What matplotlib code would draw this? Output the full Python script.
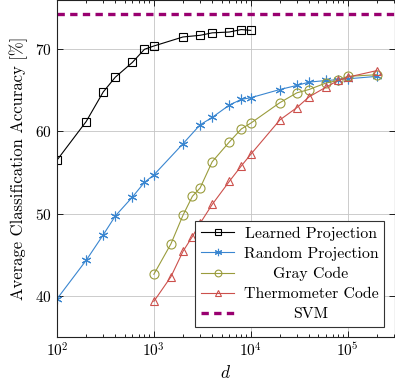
import numpy as np
import matplotlib
matplotlib.use('Agg')
from matplotlib import pyplot as plt

plt.rcParams['font.family'] = 'serif'
plt.rcParams['font.serif'] = ['cmr10']
plt.rcParams['mathtext.fontset'] = 'cm'
plt.rcParams['axes.formatter.use_mathtext'] = True
plt.rcParams['font.size'] = 11

# data
d_learned = [100, 200, 300, 400, 600, 800, 1000, 2000, 3000, 4000, 6000, 8000, 10000]
acc_learned = [56.5, 61.2, 64.8, 66.6, 68.4, 70.0, 70.4, 71.5, 71.7, 72.0, 72.1, 72.4, 72.3]

d_random = [100, 200, 300, 400, 600, 800, 1000, 2000, 3000, 4000, 6000, 8000, 10000,
            20000, 30000, 40000, 60000, 80000, 100000, 200000]
acc_random = [39.6, 44.3, 47.4, 49.7, 52.0, 53.8, 54.7, 58.5, 60.8, 61.7, 63.2, 63.9, 64.1,
              65.1, 65.6, 66.0, 66.2, 66.3, 66.4, 66.7]

d_codes = [1000, 1500, 2000, 2500, 3000, 4000, 6000, 8000, 10000,
           20000, 30000, 40000, 60000, 80000, 100000, 200000]
acc_gray = [42.6, 46.3, 49.8, 52.1, 53.1, 56.3, 58.7, 60.3, 61.0,
            63.5, 64.7, 65.1, 65.9, 66.2, 66.7, 66.9]
acc_thermo = [39.3, 42.3, 45.4, 47.2, 48.8, 51.1, 53.9, 55.8, 57.2,
              61.4, 62.9, 64.2, 65.4, 66.2, 66.6, 67.4]

svm_acc = 74.3

labels = ['Learned Projection', 'Random Projection', 'Gray Code', 'Thermometer Code', 'SVM']

fig = plt.figure(figsize=(3.95, 3.81), dpi=100)
ax = fig.add_axes([57 / 395, 1 - 336.7 / 381, 337.5 / 395, 336.7 / 381])

asterisk = (6, 2, 0)
ax.plot(d_learned, acc_learned, color='black', lw=0.8, marker='s', ms=6.3,
        mfc='none', mew=0.8, label=labels[0])
ax.plot(d_random, acc_random, color='#3a86d0', lw=0.8, marker=asterisk, ms=7,
        mew=0.8, label=labels[1])
ax.plot(d_codes, acc_gray, color='#9a9c3c', lw=0.8, marker='o', ms=6.5,
        mfc='none', mew=0.8, label=labels[2])
ax.plot(d_codes, acc_thermo, color='#cc504c', lw=0.8, marker='^', ms=6,
        mfc='none', mew=0.8, label=labels[3])
ax.axhline(svm_acc, color='#990070', lw=2.4, ls=(0, (2.2, 1.6)), label=labels[4])

ax.set_xscale('log')
ax.set_xlim(100, 3.05e5)
ax.set_ylim(35, 76)
ax.set_yticks([40, 50, 60, 70])
ax.grid(True, which='major', color='#c4c4c4', lw=0.6)
ax.tick_params(which='both', direction='in', top=True, right=True, width=0.6)
ax.tick_params(which='major', length=4)
ax.tick_params(which='minor', length=2.5)
for s in ax.spines.values():
    s.set_linewidth(0.8)
    s.set_color('#222222')

ax.set_xlabel('$d$', fontsize=12.5, labelpad=3)
ax.set_ylabel('Average Classification Accuracy [%]', fontsize=12, labelpad=5)

leg = ax.legend(loc='lower right', bbox_to_anchor=(0.969, 0.029), borderaxespad=0,
                fancybox=False, edgecolor='#333333', framealpha=1, handlelength=2.1,
                labelspacing=0.38, handletextpad=0.6, borderpad=0.35,
                fontsize=11.4, markerscale=0.75)
leg.get_frame().set_linewidth(0.8)

# centre the legend labels like the reference
fig.canvas.draw()
boxes = [t.get_window_extent() for t in leg.get_texts()]
x_left = min(b.x0 for b in boxes)
x_right = max(b.x1 for b in boxes)
xc = (x_left + x_right) / 2
inv = fig.transFigure.inverted()
for t, b in zip(leg.get_texts(), boxes):
    fx, fy = inv.transform((xc, (b.y0 + b.y1) / 2))
    fig.text(fx, fy, t.get_text(), ha='center', va='center', fontsize=11.4, zorder=10)
    t.set_alpha(0)

fig.savefig('out.png', dpi=100)
